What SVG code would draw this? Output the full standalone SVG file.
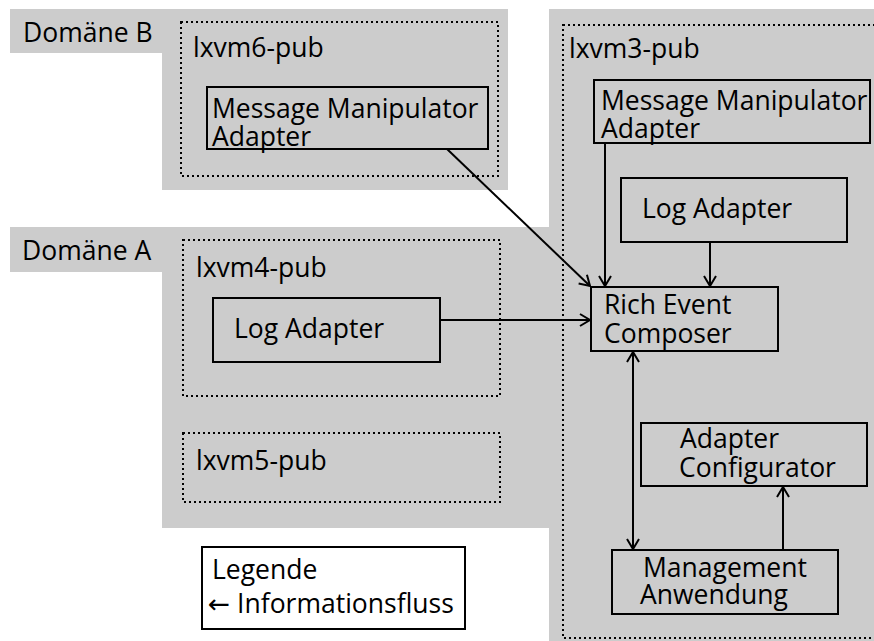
<svg xmlns="http://www.w3.org/2000/svg" width="874" height="641" viewBox="0 0 874 641">
<style>
text{font-family:"Open Sans","Noto Sans","DejaVu Sans",sans-serif;font-size:26.5px;fill:#000}
.dom{fill:#cccccc;stroke:none}
.host{fill:none;stroke:#000;stroke-width:2;stroke-dasharray:2 3}
.box{fill:none;stroke:#000;stroke-width:2}
.leg{fill:#fff;stroke:#000;stroke-width:2}
.c{fill:none;stroke:#000;stroke-width:2}
</style>
<defs>
<marker id="ah" markerWidth="14" markerHeight="14" refX="12" refY="7" orient="auto-start-reverse" markerUnits="userSpaceOnUse">
<path d="M2,1 L12,7 L2,13" fill="none" stroke="#000" stroke-width="2"/>
</marker>
</defs>
<g id="domain-b">
<path class="dom" d="M10,9 H508 V190 H162 V53 H10 Z"/>
<text x="23" y="42">Domäne B</text>
</g>
<g id="domain-a">
<path class="dom" d="M10,227 H549 V528 H162 V272 H10 Z"/>
<text x="22" y="260">Domäne A</text>
</g>
<g id="right-area">
<rect class="dom" x="549" y="9" width="330" height="640"/>
</g>
<g id="lxvm6">
<rect class="host" x="181" y="22" width="317" height="154"/>
<text x="193" y="57">lxvm6-pub</text>
</g>
<g id="mma-b">
<rect class="box" x="207" y="87" width="281" height="62"/>
<text><tspan x="212" y="118">Message Manipulator</tspan><tspan x="212" y="146">Adapter</tspan></text>
</g>
<g id="lxvm4">
<rect class="host" x="183" y="240" width="317" height="156"/>
<text x="196" y="277">lxvm4-pub</text>
</g>
<g id="log-a">
<rect class="box" x="213" y="298" width="227" height="64"/>
<text x="234" y="338">Log Adapter</text>
</g>
<g id="lxvm5">
<rect class="host" x="183" y="433" width="317" height="69"/>
<text x="196" y="470">lxvm5-pub</text>
</g>
<g id="lxvm3">
<rect class="host" x="563" y="25" width="330" height="613"/>
<text x="569" y="58">lxvm3-pub</text>
</g>
<g id="mma-c">
<rect class="box" x="594" y="80" width="276" height="63"/>
<text><tspan x="601" y="110">Message Manipulator</tspan><tspan x="601" y="138">Adapter</tspan></text>
</g>
<g id="log-c">
<rect class="box" x="621" y="178" width="226" height="64"/>
<text x="642" y="218">Log Adapter</text>
</g>
<g id="rec">
<rect class="box" x="591" y="287" width="187" height="64"/>
<text><tspan x="604" y="314">Rich Event</tspan><tspan x="604" y="343">Composer</tspan></text>
</g>
<g id="adapter-config">
<rect class="box" x="641" y="423" width="226" height="63"/>
<text><tspan x="680" y="448">Adapter</tspan><tspan x="679" y="477">Configurator</tspan></text>
</g>
<g id="management">
<rect class="box" x="612" y="550" width="226" height="64"/>
<text><tspan x="643" y="577">Management</tspan><tspan x="640" y="604">Anwendung</tspan></text>
</g>
<g id="connectors">
<line class="c" x1="447" y1="149" x2="590" y2="286" marker-end="url(#ah)"/>
<line class="c" x1="440" y1="320" x2="590" y2="320" marker-end="url(#ah)"/>
<line class="c" x1="605" y1="143" x2="605" y2="286" marker-end="url(#ah)"/>
<line class="c" x1="710" y1="242" x2="710" y2="286" marker-end="url(#ah)"/>
<line class="c" x1="633" y1="352" x2="633" y2="549" marker-start="url(#ah)" marker-end="url(#ah)"/>
<line class="c" x1="783" y1="550" x2="783" y2="487" marker-end="url(#ah)"/>
</g>
<g id="legend">
<rect class="leg" x="202" y="547" width="263" height="82"/>
<text x="212" y="579">Legende</text>
<text x="208" y="613">← Informationsfluss</text>
</g>
</svg>
